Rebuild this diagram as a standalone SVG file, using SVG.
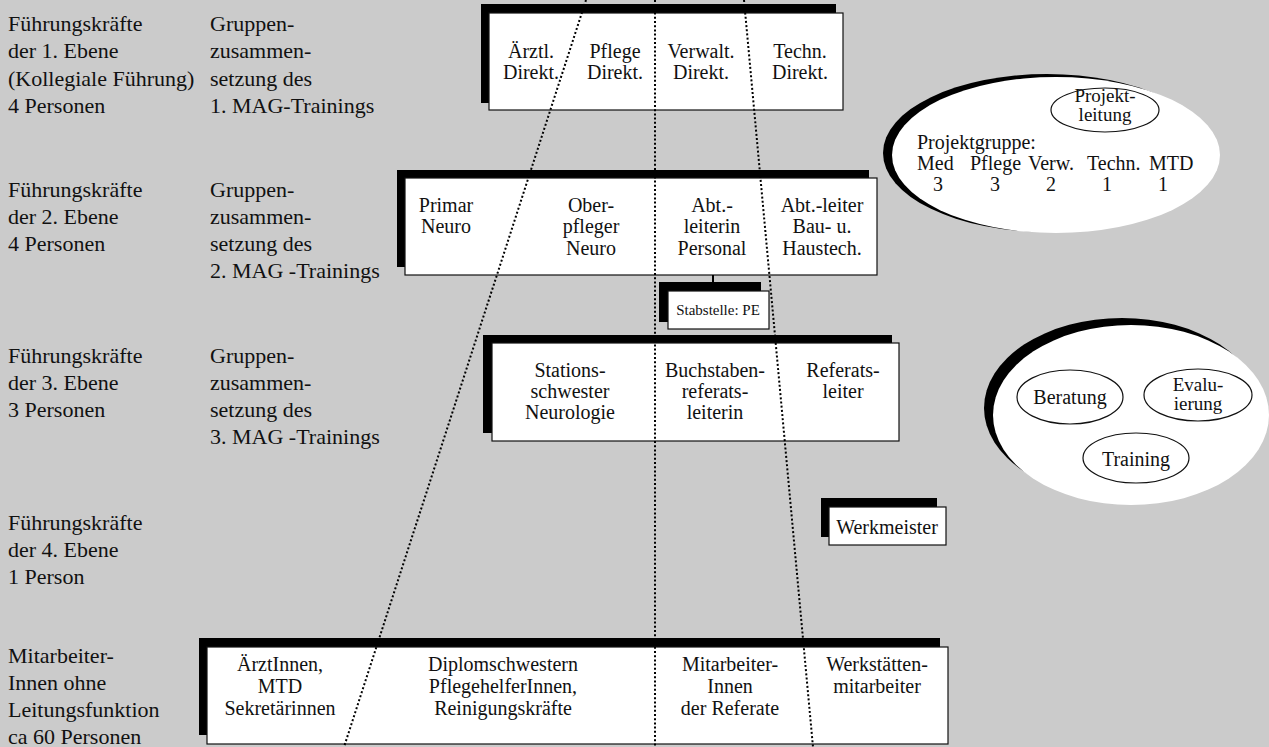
<svg xmlns="http://www.w3.org/2000/svg" width="1269" height="747" viewBox="0 0 1269 747" font-family="'Liberation Serif', 'DejaVu Serif', serif">
<style>
text{font-family:'Liberation Serif','DejaVu Serif',serif;fill:#111;}
.lbl{font-size:22px;}
.bx{font-size:20px;text-anchor:middle;}
.st{font-size:20px;text-anchor:start;}
.sm{font-size:15px;text-anchor:middle;}
.shadow{fill:#000;}
.box{fill:#fff;stroke:#111;stroke-width:1.2;}
.dot{stroke:#000;stroke-width:2;stroke-dasharray:2 2.2;fill:none;}
.el{fill:#fff;stroke:#111;stroke-width:1.2;}
</style>
<rect x="0" y="0" width="1269" height="747" fill="#cbcbcb"/>

<g id="labels">
<text class="lbl" x="8" y="31">Führungskräfte</text>
<text class="lbl" x="8" y="58">der 1. Ebene</text>
<text class="lbl" x="8" y="86">(Kollegiale Führung)</text>
<text class="lbl" x="8" y="113">4 Personen</text>
<text class="lbl" x="210" y="31">Gruppen-</text>
<text class="lbl" x="210" y="58">zusammen-</text>
<text class="lbl" x="210" y="86">setzung des</text>
<text class="lbl" x="210" y="113">1. MAG-Trainings</text>

<text class="lbl" x="8" y="197">Führungskräfte</text>
<text class="lbl" x="8" y="224">der 2. Ebene</text>
<text class="lbl" x="8" y="251">4 Personen</text>
<text class="lbl" x="210" y="197">Gruppen-</text>
<text class="lbl" x="210" y="224">zusammen-</text>
<text class="lbl" x="210" y="251">setzung des</text>
<text class="lbl" x="210" y="278">2. MAG -Trainings</text>

<text class="lbl" x="8" y="363">Führungskräfte</text>
<text class="lbl" x="8" y="390">der 3. Ebene</text>
<text class="lbl" x="8" y="417">3 Personen</text>
<text class="lbl" x="210" y="363">Gruppen-</text>
<text class="lbl" x="210" y="390">zusammen-</text>
<text class="lbl" x="210" y="417">setzung des</text>
<text class="lbl" x="210" y="444">3. MAG -Trainings</text>

<text class="lbl" x="8" y="530">Führungskräfte</text>
<text class="lbl" x="8" y="557">der 4. Ebene</text>
<text class="lbl" x="8" y="584">1 Person</text>

<text class="lbl" x="8" y="663">Mitarbeiter-</text>
<text class="lbl" x="8" y="690">Innen ohne</text>
<text class="lbl" x="8" y="717">Leitungsfunktion</text>
<text class="lbl" x="8" y="744">ca 60 Personen</text>
</g>

<g id="level1">
<rect class="shadow" x="481" y="4" width="355" height="99"/>
<rect class="box" x="489" y="13" width="354" height="97"/>
<text class="bx" x="531" y="58">Ärztl.</text><text class="bx" x="531" y="79">Direkt.</text>
<text class="bx" x="615" y="58">Pflege</text><text class="bx" x="615" y="79">Direkt.</text>
<text class="bx" x="701" y="58">Verwalt.</text><text class="bx" x="701" y="79">Direkt.</text>
<text class="bx" x="800" y="58">Techn.</text><text class="bx" x="800" y="79">Direkt.</text>
</g>

<g id="level2">
<rect class="shadow" x="397" y="170" width="472" height="97"/>
<rect class="box" x="405" y="178" width="472" height="97"/>
<text class="bx" x="446" y="212">Primar</text><text class="bx" x="446" y="233">Neuro</text>
<text class="bx" x="591" y="212">Ober-</text><text class="bx" x="591" y="233">pfleger</text><text class="bx" x="591" y="255">Neuro</text>
<text class="bx" x="712" y="212">Abt.-</text><text class="bx" x="712" y="233">leiterin</text><text class="bx" x="712" y="255">Personal</text>
<text class="bx" x="822" y="212">Abt.-leiter</text><text class="bx" x="822" y="233">Bau- u.</text><text class="bx" x="822" y="255">Haustech.</text>
</g>

<g id="stabstelle">
<rect class="shadow" x="659" y="282" width="102" height="40"/>
<rect class="box" x="668" y="291" width="101" height="38"/>
<text class="sm" x="718" y="315">Stabstelle: PE</text>
</g>

<g id="level3">
<rect class="shadow" x="483" y="335" width="409" height="98"/>
<rect class="box" x="492" y="343" width="407" height="98"/>
<text class="bx" x="570" y="377">Stations-</text><text class="bx" x="570" y="398">schwester</text><text class="bx" x="570" y="419">Neurologie</text>
<text class="bx" x="715" y="377">Buchstaben-</text><text class="bx" x="715" y="398">referats-</text><text class="bx" x="715" y="419">leiterin</text>
<text class="bx" x="843" y="377">Referats-</text><text class="bx" x="843" y="398">leiter</text>
</g>

<g id="werkmeister">
<rect class="shadow" x="821" y="498" width="116" height="39"/>
<rect class="box" x="829" y="507" width="117" height="38"/>
<text class="bx" x="887" y="534">Werkmeister</text>
</g>

<g id="level5">
<rect class="shadow" x="199" y="638" width="741" height="97"/>
<rect class="box" x="207" y="647" width="741" height="97"/>
<text class="bx" x="280" y="671">ÄrztInnen,</text><text class="bx" x="280" y="693">MTD</text><text class="bx" x="280" y="715">Sekretärinnen</text>
<text class="bx" x="503" y="671">Diplomschwestern</text><text class="bx" x="503" y="693">PflegehelferInnen,</text><text class="bx" x="503" y="715">Reinigungskräfte</text>
<text class="bx" x="730" y="671">Mitarbeiter-</text><text class="bx" x="730" y="693">Innen</text><text class="bx" x="730" y="715">der Referate</text>
<text class="bx" x="877" y="671">Werkstätten-</text><text class="bx" x="877" y="693">mitarbeiter</text>
</g>

<g id="projektgruppe">
<ellipse class="shadow" cx="1047" cy="153" rx="164" ry="79"/>
<ellipse fill="#fff" cx="1056" cy="155" rx="164" ry="78"/>
<ellipse class="el" cx="1105" cy="110" rx="54" ry="22"/>
<text x="1105" y="102" font-size="19" text-anchor="middle" style="font-size:19px">Projekt-</text>
<text x="1105" y="121" font-size="19" text-anchor="middle" style="font-size:19px">leitung</text>
<text class="st" x="917" y="149">Projektgruppe:</text>
<text class="st" x="917" y="170">Med</text>
<text class="st" x="970" y="170">Pflege</text>
<text class="st" x="1028" y="170">Verw.</text>
<text class="st" x="1087" y="170">Techn.</text>
<text class="st" x="1149" y="170">MTD</text>
<text class="bx" x="938" y="191">3</text>
<text class="bx" x="995" y="191">3</text>
<text class="bx" x="1051" y="191">2</text>
<text class="bx" x="1107" y="191">1</text>
<text class="bx" x="1163" y="191">1</text>
</g>

<g id="services">
<ellipse class="shadow" cx="1122" cy="408" rx="138" ry="90"/>
<ellipse fill="#fff" cx="1131" cy="415" rx="138" ry="90"/>
<ellipse class="el" cx="1070" cy="397" rx="53" ry="27"/>
<text class="bx" x="1070" y="404">Beratung</text>
<ellipse class="el" cx="1198" cy="395" rx="54" ry="26"/>
<text x="1198" y="391" font-size="19" text-anchor="middle" style="font-size:19px">Evalu-</text>
<text x="1198" y="410" font-size="19" text-anchor="middle" style="font-size:19px">ierung</text>
<ellipse class="el" cx="1136" cy="458" rx="53" ry="25"/>
<text class="bx" x="1136" y="466">Training</text>
</g>

<g id="connectors">
<line class="dot" x1="586" y1="0" x2="344" y2="747"/>
<line class="dot" x1="655" y1="0" x2="655" y2="747"/>
<line class="dot" x1="744" y1="0" x2="813" y2="747"/>
<line x1="713" y1="275" x2="713" y2="283" stroke="#000" stroke-width="2"/>
</g>
</svg>
